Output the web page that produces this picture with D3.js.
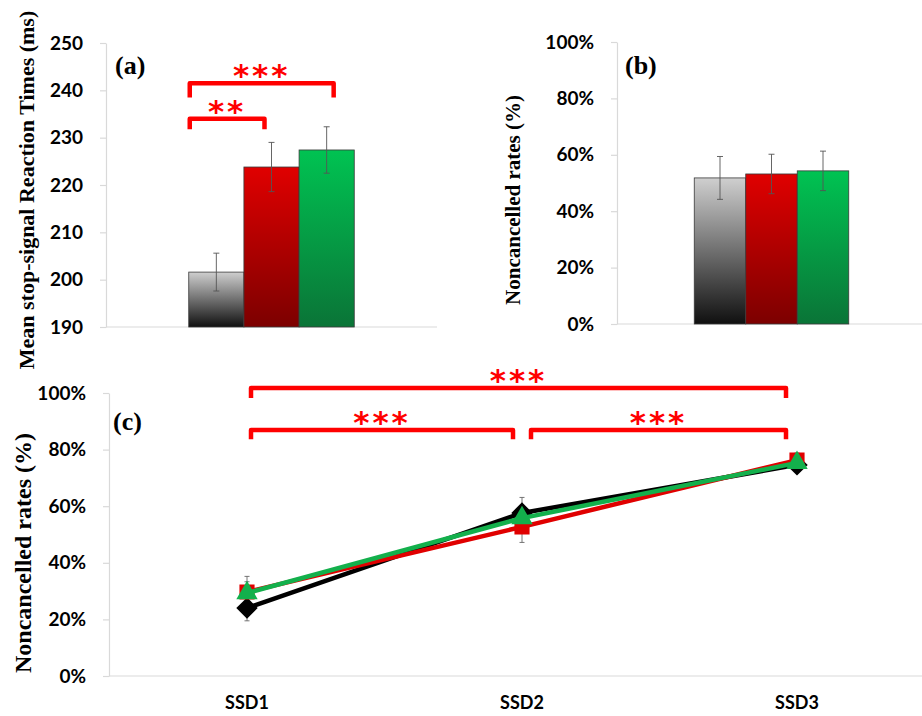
<!DOCTYPE html>
<html>
<head>
<meta charset="utf-8">
<script src="https://cdn.jsdelivr.net/npm/d3@7"></script>
<style>
  body{margin:0;background:#fff;}
  svg{display:block;}
</style>
</head>
<body>
<svg id="chart" width="922" height="716"></svg>
<script>
// groups: grey / red / green (no legend in the figure)
const groups=["grey","red","green"];
// (a) mean stop-signal reaction times (ms)
const ssrtMeans=[201.6,223.8,227.4];
const ssrtErrors=[4.0,5.2,4.9];
const ssrtTicks=[190,200,210,220,230,240,250];
// (b) overall noncancelled rates (%)
const ncMeans=[51.8,53.2,54.3];
const ncErrors=[7.6,7.0,7.0];
const pctTicks=[0,20,40,60,80,100];
// (c) noncancelled rates by stop-signal delay (%)
const ssdLabels=["SSD1","SSD2","SSD3"];
const ncGrey=[24.0,57.6,74.6];
const ncRed=[29.7,52.7,76.3];
const ncGreen=[29.3,55.8,75.3];
const ncGreyErr=[4.5,5.5,2.0];
const ncRedErr=[5.5,5.5,2.5];
const ncGreenErr=[4.0,4.0,2.0];

const svg=d3.select("#chart");
const axisColor="#d9d9d9";
const tickFont="Lato, 'Open Sans', sans-serif";
const serif="'Liberation Serif', 'Times New Roman', serif";

/* degradados de las barras */
const defs=svg.append("defs");
const grads={grey:["#cfcfcf","#101010"],red:["#e00000","#7c0000"],green:["#00c352","#0a7437"]};
groups.forEach(g=>{
  const lg=defs.append("linearGradient").attr("id","grad-"+g).attr("x1",0).attr("y1",0).attr("x2",0).attr("y2",1);
  lg.append("stop").attr("offset","0%").attr("stop-color",grads[g][0]);
  lg.append("stop").attr("offset","100%").attr("stop-color",grads[g][1]);
});
const lineColors={grey:"#000000",red:"#e00000",green:"#13b04c"};

function yAxis(g,scale,ticks,fmt){
  g.call(d3.axisLeft(scale).tickValues(ticks).tickSize(6).tickSizeOuter(0).tickPadding(17).tickFormat(fmt));
  g.select(".domain").attr("stroke",axisColor).attr("stroke-width",1.2);
  g.selectAll(".tick line").attr("stroke",axisColor).attr("stroke-width",1.2);
  g.selectAll(".tick text").attr("font-family",tickFont).attr("font-weight","bold").attr("font-size",19).attr("fill","#000");
}

function yLabel(text,x,y,size){
  svg.append("text").attr("transform","translate("+x+","+y+") rotate(-90)")
    .attr("text-anchor","middle").attr("dominant-baseline","central")
    .attr("font-family",serif).attr("font-weight","bold").attr("font-size",size).text(text);
}

function panelTag(text,x,y){
  svg.append("text").attr("x",x).attr("y",y).attr("font-family",serif)
    .attr("font-weight","bold").attr("font-size",26).text(text);
}

function bracket(x1,x2,yTop,yEnd,label){
  svg.append("path")
    .attr("d","M"+x1+","+yEnd+"V"+yTop+"H"+x2+"V"+yEnd)
    .attr("fill","none").attr("stroke","#ff0000").attr("stroke-width",4.5).attr("stroke-linejoin","round");
  if(label){
    svg.append("text").attr("x",(x1+x2)/2).attr("y",yTop+3).attr("text-anchor","middle")
      .attr("font-family","'DejaVu Sans', sans-serif").attr("font-weight","bold")
      .attr("font-size",31).attr("letter-spacing",3).attr("fill","#ff0000").text(label);
  }
}

function barPanel(means,errors,yScale,xRange,ticks,fmt){
  const x=d3.scaleBand().domain([0]).range(xRange).paddingInner(0).paddingOuter(0.5);
  const xg=d3.scaleBand().domain(groups).range([0,x.bandwidth()]);
  const g=svg.append("g");
  const y0=yScale.range()[0];
  g.append("line").attr("x1",xRange[0]).attr("x2",xRange[1]).attr("y1",y0).attr("y2",y0)
    .attr("stroke",axisColor).attr("stroke-width",1.2);
  yAxis(g.append("g").attr("transform","translate("+xRange[0]+",0)"),yScale,ticks,fmt);
  groups.forEach((grp,i)=>{
    const bx=x(0)+xg(grp);
    g.append("rect").attr("x",bx).attr("width",xg.bandwidth())
      .attr("y",yScale(means[i])).attr("height",y0-yScale(means[i]))
      .attr("fill","url(#grad-"+grp+")").attr("stroke","#3a3a3a").attr("stroke-width",0.8);
    const cx=bx+xg.bandwidth()/2;
    const top=yScale(means[i]+errors[i]),bot=yScale(means[i]-errors[i]);
    g.append("path").attr("d","M"+cx+","+top+"V"+bot+"M"+(cx-3)+","+top+"H"+(cx+3)+"M"+(cx-3)+","+bot+"H"+(cx+3))
      .attr("stroke","#555").attr("stroke-width",0.9).attr("fill","none");
  });
  return {x:x,xg:xg};
}

/* (a) */
const yA=d3.scaleLinear().domain([190,250]).range([327,43]);
const pa=barPanel(ssrtMeans,ssrtErrors,yA,[106,437],ssrtTicks,d3.format("d"));
panelTag("(a)",115,74);
yLabel("Mean stop-signal Reaction Times (ms)",26,190,22);
{
  const left=pa.x(0)+1;
  const redC=pa.x(0)+pa.xg("red")+pa.xg.bandwidth()/2;
  const greenC=pa.x(0)+pa.xg("green")+pa.xg.bandwidth()/2;
  bracket(left,greenC+7,yA(241.5),yA(238.5),"***");
  bracket(left,redC-7,yA(234),yA(231.8),"**");
}

/* (b) */
const yB=d3.scaleLinear().domain([0,100]).range([324,42]);
barPanel(ncMeans,ncErrors,yB,[617,926],pctTicks,d=>d+"%");
panelTag("(b)",625,74);
yLabel("Noncancelled  rates (%)",513,200,21);

/* (c) */
const yC=d3.scaleLinear().domain([0,100]).range([676,393]);
const xC=d3.scalePoint().domain(ssdLabels).range([247,797]);
const gc=svg.append("g");
gc.append("line").attr("x1",109).attr("x2",922).attr("y1",676).attr("y2",676)
  .attr("stroke",axisColor).attr("stroke-width",1.2);
yAxis(gc.append("g").attr("transform","translate(109,0)"),yC,pctTicks,d=>d+"%");
gc.selectAll(".ssd").data(ssdLabels).join("text").attr("class","ssd")
  .attr("x",d=>xC(d)).attr("y",709).attr("text-anchor","middle")
  .attr("font-family",tickFont).attr("font-weight","bold").attr("font-size",18).text(d=>d);
panelTag("(c)",113,430);
yLabel("Noncancelled rates (%)",23,553,24);

const series=[
  {grp:"grey",vals:ncGrey,err:ncGreyErr,shape:d3.symbolDiamond2,size:220},
  {grp:"red",vals:ncRed,err:ncRedErr,shape:d3.symbolSquare2,size:220},
  {grp:"green",vals:ncGreen,err:ncGreenErr,shape:d3.symbolTriangle2,size:230}
];
// error bars first
series.forEach(s=>{
  s.vals.forEach((v,i)=>{
    const cx=xC(ssdLabels[i]),top=yC(v+s.err[i]),bot=yC(v-s.err[i]);
    gc.append("path").attr("d","M"+cx+","+top+"V"+bot+"M"+(cx-2.5)+","+top+"H"+(cx+2.5)+"M"+(cx-2.5)+","+bot+"H"+(cx+2.5))
      .attr("stroke","#666").attr("stroke-width",0.9).attr("fill","none");
  });
});
const line=d3.line().x((d,i)=>xC(ssdLabels[i])).y(d=>yC(d));
series.forEach(s=>{
  gc.append("path").datum(s.vals).attr("d",line).attr("fill","none")
    .attr("stroke",lineColors[s.grp]).attr("stroke-width",4.5).attr("stroke-linejoin","round");
  gc.selectAll(null).data(s.vals).join("path")
    .attr("transform",(d,i)=>"translate("+xC(ssdLabels[i])+","+yC(d)+")")
    .attr("d",d3.symbol().type(s.shape).size(s.size))
    .attr("fill",lineColors[s.grp]).attr("stroke",lineColors[s.grp]).attr("stroke-width",2);
});

{
  const x1=xC("SSD1")+4,x2=xC("SSD2")-9,x3=xC("SSD2")+9,x4=xC("SSD3")-11;
  bracket(x1,x4,yC(101.8),yC(98.2),"***");
  bracket(x1,x2,yC(86.9),yC(83.7),"***");
  bracket(x3,x4,yC(86.9),yC(83.7),"***");
}
</script>
</body>
</html>
